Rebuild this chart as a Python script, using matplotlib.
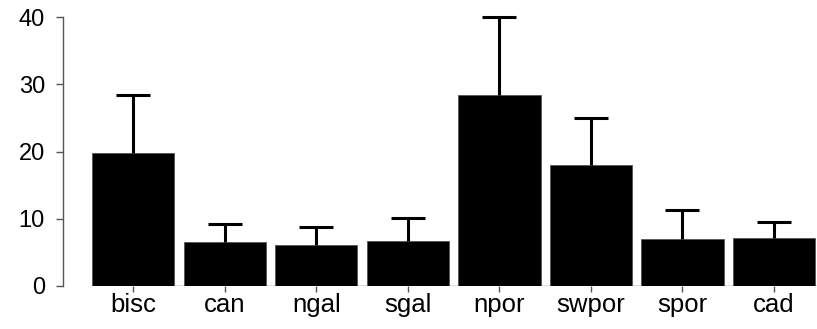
import matplotlib.pyplot as plt
import numpy as np

# Sites and values
sites = ['bisc', 'can', 'ngal', 'sgal', 'npor', 'swpor', 'spor', 'cad']
means = [19.8, 6.5, 6.1, 6.7, 28.4, 18.0, 7.0, 7.1]
upper = [28.4, 9.2, 8.8, 10.1, 40.0, 25.0, 11.3, 9.5]

plt.rcParams['font.family'] = ['Liberation Sans', 'DejaVu Sans']

x = np.arange(len(sites))
err = np.array(upper) - np.array(means)
w = 0.9
grey = '#555555'

fig = plt.figure(figsize=(8.17, 3.29), dpi=100)
ax = fig.add_axes([63 / 817, 43 / 329, 1 - 63 / 817, 269 / 329])

ax.bar(x, means, width=w, color='black', edgecolor=grey, linewidth=0.6, zorder=2)
eb = ax.errorbar(x, means, yerr=[np.zeros(len(x)), err], fmt='none', ecolor='black',
                 elinewidth=2.2, capsize=12.5, capthick=2.2, clip_on=False, zorder=3)
# only upper caps, like R's arrows()
eb[1][0].set_visible(False)
ax.hlines(0, x[0] - w / 2, x[-1] + w / 2 + 0.05, color=grey, linewidth=1, zorder=1)

ax.set_xlim(-0.767, 7.47)
ax.set_ylim(0, 40)
ax.set_yticks([0, 10, 20, 30, 40])
ax.set_xticks(x)
ax.set_xticklabels(sites)

for s in ['top', 'right', 'bottom']:
    ax.spines[s].set_visible(False)
ax.spines['left'].set_color(grey)
ax.spines['left'].set_linewidth(1)

ax.tick_params(axis='y', length=5, width=1, color=grey, labelsize=17, pad=8)
ax.tick_params(axis='x', length=4.3, width=1, color=grey, labelsize=18.5, pad=1)

fig.savefig('out.png', dpi=100)
